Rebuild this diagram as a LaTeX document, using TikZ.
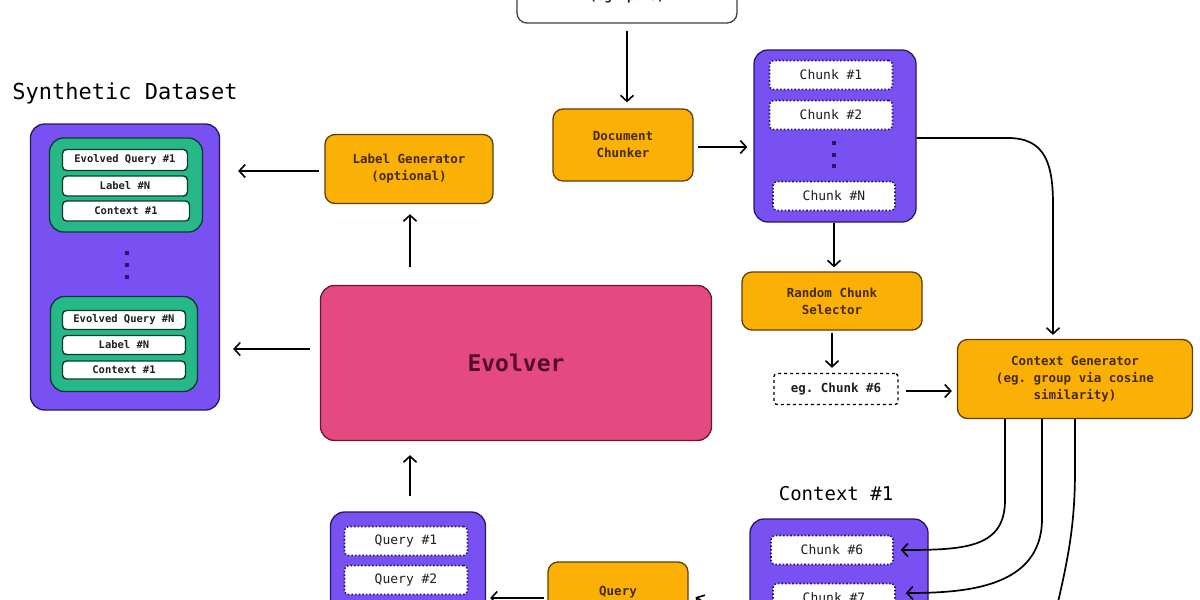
\documentclass[tikz,border=0pt]{standalone}
\usepackage{fontspec}
\setmonofont{DejaVu Sans Mono}
\usetikzlibrary{arrows.meta}
\definecolor{orng}{RGB}{250,176,5}
\definecolor{orngdark}{RGB}{95,62,8}
\definecolor{orngtext}{RGB}{70,42,0}
\definecolor{purp}{RGB}{121,80,242}
\definecolor{purpdark}{RGB}{38,22,105}
\definecolor{pnk}{RGB}{228,73,128}
\definecolor{pnkdark}{RGB}{105,22,58}
\definecolor{pnktext}{RGB}{85,12,42}
\definecolor{grn}{RGB}{38,184,134}
\definecolor{grndark}{RGB}{12,58,50}
\definecolor{inkc}{RGB}{30,30,30}
\tikzset{
  txt/.style={font=\ttfamily\fontsize{13}{17}\selectfont},
  btxt/.style={font=\ttfamily\bfseries\fontsize{12.5}{17}\selectfont},
  box/.style={rounded corners=10pt, line width=1.3pt, align=center, inner sep=0pt},
  orangebox/.style={box, fill=orng, draw=orngdark, text=orngtext, btxt},
  purplebox/.style={rounded corners=14pt, fill=purp, draw=purpdark, line width=1.3pt, inner sep=0pt},
  greenbox/.style={rounded corners=14pt, fill=grn, draw=grndark, line width=1.3pt, inner sep=0pt},
  chunkbox/.style={rounded corners=4pt, fill=white, draw=purpdark, dotted, line width=1.6pt, inner sep=0pt, text=inkc, txt},
  itembox/.style={rounded corners=4pt, fill=white, draw=grndark, line width=1.4pt, inner sep=0pt, text=inkc, font=\ttfamily\bfseries\fontsize{10.5}{13}\selectfont},
  arr/.style={draw=black, line width=1.7pt, -{Straight Barb[length=6pt,width=13pt,line width=1.6pt]}},
  title/.style={font=\ttfamily\fontsize{21}{24}\selectfont, text=black},
}
\begin{document}
\begin{tikzpicture}[x=1pt,y=-1pt]
\useasboundingbox (0,0) rectangle (1200,600);
\fill[white] (0,0) rectangle (1200,600);
\clip (0,0) rectangle (1200,600);

% source
\node[box, fill=white, draw=black!75, text=inkc, btxt, minimum width=220pt, minimum height=52pt] (src) at (627,-3) {(eg. pdfs)};

% document chunker
\node[orangebox, minimum width=140pt, minimum height=72pt] (doc) at (623,145) {Document\\Chunker};

% chunk list
\node[purplebox, minimum width=162pt, minimum height=172pt] (chunks) at (835,136) {};
\node[chunkbox, minimum width=123pt, minimum height=29pt] (ch1) at (831,75) {Chunk \#1};
\node[chunkbox, minimum width=123pt, minimum height=29pt] (ch2) at (831,115) {Chunk \#2};
\node[chunkbox, minimum width=122pt, minimum height=29pt] (chN) at (834,196) {Chunk \#N};
\foreach \yy in {143,155,166} \fill[purpdark] (832,\yy-2) rectangle (836,\yy+2);

% random chunk selector
\node[orangebox, minimum width=180pt, minimum height=58pt] (rand) at (832,301) {Random Chunk\\Selector};
\node[rounded corners=3pt, fill=white, draw=black, dashed, line width=1.4pt, inner sep=0pt, text=inkc, btxt, minimum width=124pt, minimum height=31pt] (eg) at (836,389) {eg. Chunk \#6};

% context generator
\node[orangebox, minimum width=235pt, minimum height=79pt] (ctxgen) at (1075,379) {Context Generator\\(eg. group via cosine\\similarity)};

% context #1
\node[title, font=\ttfamily\fontsize{19}{22}\selectfont] (ctxtitle) at (836,494) {Context \#1};
\node[purplebox, minimum width=178pt, minimum height=112pt] (ctxbox) at (839,575) {};
\node[chunkbox, minimum width=122pt, minimum height=29pt] (c6) at (832,550) {Chunk \#6};
\node[chunkbox, minimum width=122pt, minimum height=29pt] (c7) at (834,598) {Chunk \#7};

% query generator
\node[orangebox, minimum width=140pt, minimum height=74pt] (qgen) at (618,599) {Query\\Generator};

% queries
\node[purplebox, minimum width=155pt, minimum height=116pt] (qbox) at (408,570) {};
\node[chunkbox, minimum width=123pt, minimum height=29pt] (q1) at (406,541) {Query \#1};
\node[chunkbox, minimum width=123pt, minimum height=29pt] (q2) at (406,580) {Query \#2};

% evolver
\node[box, rounded corners=14pt, fill=pnk, draw=pnkdark, text=pnktext, font=\ttfamily\bfseries\fontsize{23}{28}\selectfont, minimum width=391pt, minimum height=155pt] (evo) at (516,363) {Evolver};

% label generator
\node[orangebox, minimum width=168pt, minimum height=69pt] (lab) at (409,169) {Label Generator\\(optional)};

% synthetic dataset
\node[title, font=\ttfamily\fontsize{22}{26}\selectfont] (dstitle) at (125,93) {Synthetic Dataset};
\node[purplebox, minimum width=189pt, minimum height=286pt] (ds) at (125,267) {};
\node[greenbox, minimum width=153pt, minimum height=94pt] (g1) at (126,185) {};
\node[itembox, minimum width=125pt, minimum height=21pt] (eq1) at (125,160) {Evolved Query \#1};
\node[itembox, minimum width=125pt, minimum height=20pt] (l1) at (125,186) {Label \#N};
\node[itembox, minimum width=127pt, minimum height=20pt] (cx1) at (126,211) {Context \#1};
\foreach \yy in {253,265,277} \fill[purpdark] (125,\yy-2) rectangle (129,\yy+2);
\node[greenbox, minimum width=147pt, minimum height=95pt] (g2) at (124,344) {};
\node[itembox, minimum width=123pt, minimum height=19pt] (eqN) at (124,320) {Evolved Query \#N};
\node[itembox, minimum width=123pt, minimum height=19pt] (l2) at (124,345) {Label \#N};
\node[itembox, minimum width=123pt, minimum height=18pt] (cx2) at (124,370) {Context \#1};

% connectors
\draw[arr, shorten <=7pt, shorten >=6pt] (src.south) -- (src.south |- doc.north);
\draw[arr, shorten <=4pt, shorten >=6pt] ([yshift=-2pt]doc.east) -- ([yshift=-2pt]doc.east -| chunks.west);
\draw[arr, shorten >=4pt] ([xshift=-1pt]chunks.south) -- ([xshift=-1pt]chunks.south |- rand.north);
\draw[arr, shorten <=2pt, shorten >=5pt] (rand.south) -- (rand.south |- eg.north);
\draw[arr, shorten <=7pt, shorten >=5pt] ([yshift=-2pt]eg.east) -- ([yshift=-2pt]eg.east -| ctxgen.west);
\draw[arr, shorten >=4pt] ([yshift=-2pt]chunks.east) -- (1008,138) .. controls (1046,138) and (1053,165) .. (1053,205) -- ([xshift=-22pt]ctxgen.north);
\draw[arr, shorten >=7pt] ([xshift=-70pt]ctxgen.south) -- (1005,500) .. controls (1005,548) and (965,550) .. (c6.east);
\draw[arr, shorten >=10pt] ([xshift=-33pt]ctxgen.south) -- (1042,520) .. controls (1041,588) and (965,593) .. ([yshift=5pt]c7.east);
\coordinate (c8in) at (1045,660);
\draw[line width=1.7pt] (ctxgen.south) -- (1075,470) .. controls (1075,545) and (1062,580) .. (c8in);
\coordinate (ctxout) at (750,630);
\draw[arr, shorten >=8pt] (ctxout) -- ([yshift=6pt]qgen.east);
\draw[arr, shorten <=3pt, shorten >=4pt] ([yshift=1pt]qgen.west) -- ([yshift=1pt]qgen.west -| qbox.east);
\draw[arr, shorten <=15pt, shorten >=14pt] ([xshift=2pt]qbox.north) -- ([xshift=2pt]qbox.north |- evo.south);
\draw[arr, shorten <=18pt, shorten >=10pt] ([xshift=1pt]lab.south |- evo.north) -- ([xshift=1pt]lab.south);
\draw[arr, shorten <=5pt, shorten >=18pt] ([yshift=-2pt]lab.west) -- ([yshift=-2pt]lab.west -| ds.east);
\coordinate (e1) at ([yshift=14pt]evo.west);
\draw[arr, shorten <=10pt, shorten >=13pt] (e1) -- (e1 -| ds.east);
\end{tikzpicture}
\end{document}
